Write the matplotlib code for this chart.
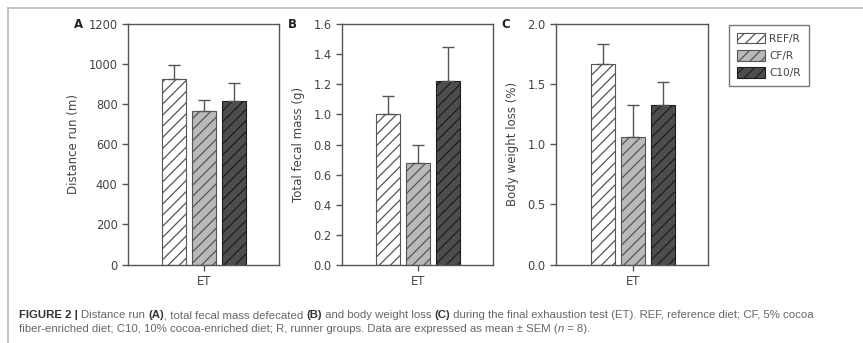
import matplotlib
matplotlib.use("Agg")
import matplotlib.pyplot as plt
from matplotlib.lines import Line2D
from matplotlib.patches import Patch

plt.rcParams['font.family'] = ['DejaVu Sans']
plt.rcParams['hatch.linewidth'] = 0.9

groups = ['REF/R', 'CF/R', 'C10/R']
colors = ['#ffffff', '#b9b9b9', '#4d4d4d']
hatch_cols = ['#555555', '#555555', '#1e1e1e']

# means and SEM
dist_mean = [925, 765, 817]
dist_sem = [70, 55, 88]
fecal_mean = [1.005, 0.68, 1.22]
fecal_sem = [0.115, 0.12, 0.225]
bw_mean = [1.665, 1.06, 1.33]
bw_sem = [0.17, 0.27, 0.19]

W, H = 863, 343
fig = plt.figure(figsize=(W / 100, H / 100), dpi=100)

def px_axes(left, top, right, bottom):
    return fig.add_axes([left / W, 1 - bottom / H, (right - left) / W, (bottom - top) / H])

txt_col = '#444444'
spine_col = '#555555'
HATCH = '///'

def panel(ax, means, sems, ylim, yticks, fmt, ylabel, letter):
    for i, (m, s) in enumerate(zip(means, sems)):
        ax.bar(i - 1, m, width=0.8, color=colors[i], edgecolor=hatch_cols[i],
               hatch=HATCH, linewidth=0.8, zorder=2)
        ax.errorbar(i - 1, m, yerr=[[0], [s]], fmt='none', ecolor=spine_col,
                    elinewidth=1.0, capsize=4, capthick=1.0, zorder=3)
    ax.set_xlim(-2.55, 2.5)
    ax.set_ylim(*ylim)
    ax.set_yticks(yticks)
    ax.set_yticklabels([fmt.format(v) for v in yticks])
    ax.set_xticks([0])
    ax.set_xticklabels(['ET'])
    ax.tick_params(colors=spine_col, labelcolor=txt_col, labelsize=8.3, length=4, width=1)
    for sp in ax.spines.values():
        sp.set_color(spine_col)
        sp.set_linewidth(1)
    ax.set_ylabel(ylabel, fontsize=8.5, color=txt_col, labelpad=6)
    ax.text(-0.36, 1.0, letter, transform=ax.transAxes, fontsize=8.5,
            fontweight='bold', color='#222222', ha='left', va='center')

axA = px_axes(128, 24, 279, 264.5)
panel(axA, dist_mean, dist_sem, (0, 1200), list(range(0, 1201, 200)), '{:.0f}',
      'Distance run (m)', 'A')
axB = px_axes(342, 24, 493, 265)
panel(axB, fecal_mean, fecal_sem, (0, 1.6), [0, 0.2, 0.4, 0.6, 0.8, 1.0, 1.2, 1.4, 1.6],
      '{:.1f}', 'Total fecal mass (g)', 'B')
axC = px_axes(556, 24, 708, 264.5)
panel(axC, bw_mean, bw_sem, (0, 2.0), [0, 0.5, 1.0, 1.5, 2.0], '{:.1f}',
      'Body weight loss (%)', 'C')

handles = [Patch(facecolor=colors[i], edgecolor=hatch_cols[i], hatch=HATCH, linewidth=0.8)
           for i in range(3)]
leg = fig.legend(handles, groups, loc='upper left', bbox_to_anchor=(729 / W, 1 - 25 / H),
                 fontsize=7.6, frameon=True, fancybox=False, edgecolor=spine_col,
                 handlelength=2.7, handleheight=1.15, handletextpad=0.35,
                 borderpad=0.75, labelspacing=0.6, borderaxespad=0)
leg.get_frame().set_linewidth(1)
for t in leg.get_texts():
    t.set_color(txt_col)

# outer frame of the figure box
fig.add_artist(Line2D([8 / W, 1], [1 - 8 / H, 1 - 8 / H], color='#bbbbbb', lw=1.2))
fig.add_artist(Line2D([8 / W, 8 / W], [0, 1 - 8 / H], color='#bbbbbb', lw=1.2))

# caption with mixed bold / italic segments
cap_font = 'Liberation Sans'
line1 = [("FIGURE 2 | ", 'bold', 'normal', '#333333'),
         ("Distance run ", 'normal', 'normal', '#666666'),
         ("(A)", 'bold', 'normal', '#333333'),
         (", total fecal mass defecated ", 'normal', 'normal', '#666666'),
         ("(B)", 'bold', 'normal', '#333333'),
         (" and body weight loss ", 'normal', 'normal', '#666666'),
         ("(C)", 'bold', 'normal', '#333333'),
         (" during the final exhaustion test (ET). REF, reference diet; CF, 5% cocoa",
          'normal', 'normal', '#666666')]
line2 = [("fiber-enriched diet; C10, 10% cocoa-enriched diet; R, runner groups. "
          "Data are expressed as mean \u00b1 SEM (", 'normal', 'normal', '#666666'),
         ("n", 'normal', 'italic', '#666666'),
         (" = 8).", 'normal', 'normal', '#666666')]

fig.canvas.draw()
renderer = fig.canvas.get_renderer()

def draw_line(segments, y_px, x_px=19):
    x = x_px
    for s, w, st, c in segments:
        t = fig.text(x / W, 1 - y_px / H, s, fontsize=8.2, family=cap_font,
                     fontweight=w, fontstyle=st, color=c, ha='left', va='center')
        bb = t.get_window_extent(renderer=renderer)
        x += bb.width

draw_line(line1, 315)
draw_line(line2, 329)

fig.savefig('out.png', dpi=100)
